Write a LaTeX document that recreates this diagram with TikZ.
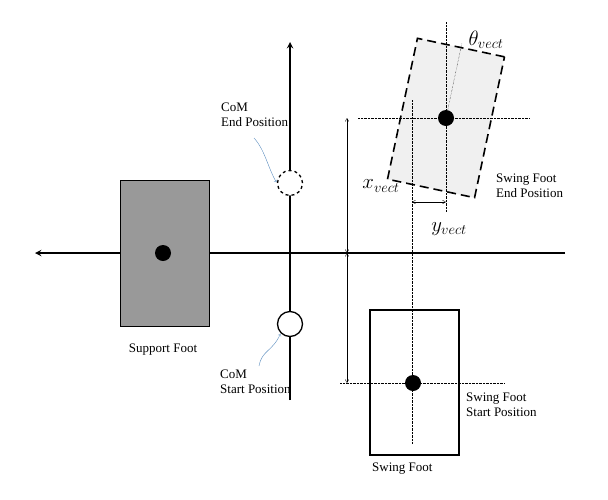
\documentclass[tikz,border=0pt]{standalone}
\usepackage{fontspec}
\setmainfont{Liberation Serif}
\usetikzlibrary{arrows,positioning,calc}
\definecolor{footgray}{gray}{0.6}
\definecolor{endgray}{gray}{0.94}
\definecolor{callout}{RGB}{90,140,190}
\begin{document}
\begin{tikzpicture}[x = 1pt, y = -1pt]
    \tikzset{
      foot/.style = {draw, line width = 1.3pt, minimum width = 89pt, minimum height = 146pt, inner sep = 0pt},
      dot/.style = {circle, fill, minimum size = 16pt, inner sep = 0pt},
      com/.style = {circle, draw, line width = 1.3pt, fill = white, minimum size = 25pt, inner sep = 0pt},
      guide/.style = {densely dotted},
      txt/.style = {font = \fontsize{13}{14.5}\selectfont, inner sep = 0pt},
      lbl/.style = {txt, align = left, anchor = north west},
      mlbl/.style = {font = \fontsize{21}{22}\selectfont, inner sep = 0pt},
      tip/.style = {->, callout, thin, shorten >= 1pt}
    }
    \useasboundingbox (0,0) rectangle (608,499);
    % Axes
    \coordinate (left) at (35,253);
    \coordinate (right) at (565,253);
    \coordinate (top) at (290,42);
    \coordinate (bottom) at (290,400);
    \draw[->, >=stealth, line width = 1.8pt] (right) -- (left);
    \draw[->, >=stealth, line width = 1.8pt] (bottom) -- (top);
    % Feet
    \node[foot, fill = footgray] (support) at (165,253.5) {};
    \node[dot] (sdot) at (163,253) {};
    \node[foot, minimum height = 145pt] (swing) at (414.5,382.5) {};
    \node[foot, dash pattern = on 9pt off 5pt, line width = 1.6pt, fill = endgray, minimum height = 144pt, rotate = -12] (swingend) at (446,118) {};
    % Guides
    \coordinate (g1) at (412,100);
    \coordinate (g2) at (412,444);
    \coordinate (h1) at (340,383);
    \coordinate (h2) at (505,383);
    \coordinate (e1) at (358,118);
    \coordinate (e2) at (530,118);
    \coordinate (v1) at (446,22);
    \coordinate (v2) at (446,212);
    \draw[guide] (g1) -- (g2);
    \draw[guide] (h1) -- (h2);
    \draw[guide] (e1) -- (e2);
    \draw[guide] (v1) -- (v2);
    \draw[guide] (swingend.center) -- ($(swingend.center)!1.05!(swingend.north)$);
    \node[dot] (swdot) at (413,383) {};
    \node[dot] (edot) at (446,118) {};
    % CoM
    \node[com, dashed] (comend) at (290,183) {};
    \node[com] (comstart) at (290,324) {};
    % Dimensions
    \coordinate (xa) at (347,118);
    \coordinate (xb) at (347,253);
    \coordinate (xc) at (347,383);
    \draw[<->, >=angle 60] (xa) -- (xb);
    \draw[<->, >=angle 60] (xb) -- (xc);
    \coordinate (ya) at (412,202);
    \coordinate (yb) at (446,202);
    \draw[<->, >=angle 60] (ya) -- (yb);
    % Labels
    \node[mlbl] (xv) at (381,186) {$x_{vect}$};
    \node[mlbl] (yv) at (449,229) {$y_{vect}$};
    \node[mlbl] (tv) at (486,40) {$\theta_{vect}$};
    \node[lbl] (endlbl) at (496,174) {Swing Foot\\End Position};
    \node[lbl] (startlbl) at (466,393) {Swing Foot\\Start Position};
    \node[txt, anchor = north west] (swinglbl) at (372,463) {Swing Foot};
    \node[txt, anchor = north] (supportlbl) at (163,344) {Support Foot};
    \node[lbl] (comendlbl) at (221,103) {CoM\\End Position};
    \node[lbl] (comstartlbl) at (220,370) {CoM\\Start Position};
    \draw[tip] (254,138) .. controls (265,150) and (268,168) .. (comend.west);
    \draw[tip] (259,366) .. controls (262,350) and (272,352) .. (comstart.south west);
  \end{tikzpicture}
\end{document}
